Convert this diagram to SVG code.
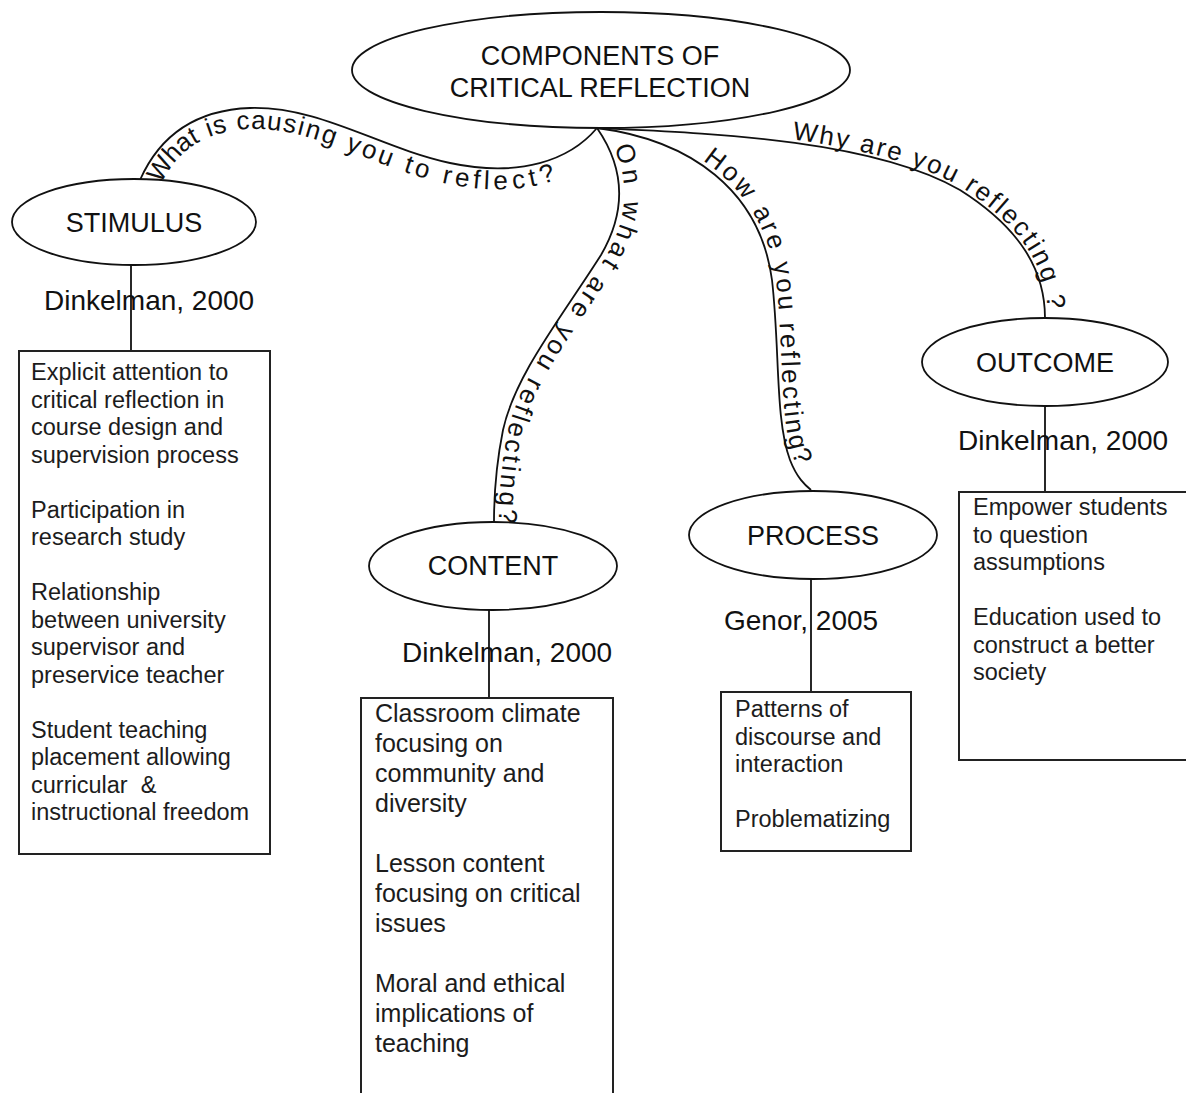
<svg xmlns="http://www.w3.org/2000/svg" xmlns:xlink="http://www.w3.org/1999/xlink" width="1186" height="1093" viewBox="0 0 1186 1093">
  <style>
    .bg { fill: #ffffff; }
    .node { fill: #ffffff; stroke: #111; stroke-width: 1.8; }
    .box { fill: #ffffff; stroke: #222; stroke-width: 2; }
    .wire { fill: none; stroke: #111; stroke-width: 1.8; }
    text { font-family: "Liberation Sans", Arial, Helvetica, sans-serif; fill: #111; }
    .title { font-size: 27px; text-anchor: middle; }
    .cite { font-size: 28px; }
    .item { font-size: 23.5px; fill: #1c1c1c; }
    .item-lg { font-size: 25px; fill: #1c1c1c; }
    .curve { font-size: 26px; }
  </style>
  <rect class="bg" x="0" y="0" width="1186" height="1093"/>

  <!-- connectors: curved question links from the hub and straight stems down to the boxes -->
  <g id="connectors">
    <path id="link-stimulus" class="wire" d="M140,180 C160,135 195,110 250,108 C320,106 380,148 450,163 C520,178 570,160 597,128"/>
    <path id="link-content" class="wire" d="M597,128 C626,170 626,212 601,255 C561,318 515,375 503,430 C495,470 494,500 494,522"/>
    <path id="link-process" class="wire" d="M597,128 C690,140 760,190 772,280 C780,350 775,420 790,460 C797,478 805,485 811,490"/>
    <path id="link-outcome" class="wire" d="M597,128 C700,133 870,138 960,190 C1020,228 1045,270 1045,318"/>

    <line class="wire" x1="131" y1="265" x2="131" y2="351"/>
    <line class="wire" x1="489" y1="610" x2="489" y2="698"/>
    <line class="wire" x1="811" y1="579" x2="811" y2="692"/>
    <line class="wire" x1="1045" y1="406" x2="1045" y2="492"/>

    <text class="curve" dominant-baseline="hanging" dy="2" letter-spacing="2.9"><textPath xlink:href="#link-stimulus" href="#link-stimulus" startOffset="8">What is causing you to reflect?</textPath></text>
    <text class="curve" dy="-5" letter-spacing="3.4"><textPath xlink:href="#link-content" href="#link-content" startOffset="24">On what are you reflecting?</textPath></text>
    <text class="curve" dy="-4" letter-spacing="2.6"><textPath xlink:href="#link-process" href="#link-process" startOffset="110">How are you reflecting?</textPath></text>
    <text class="curve" dy="-3" letter-spacing="2.1"><textPath xlink:href="#link-outcome" href="#link-outcome" startOffset="195">Why are you reflecting ?</textPath></text>

    <text class="cite" x="44" y="310">Dinkelman, 2000</text>
    <text class="cite" x="402" y="662">Dinkelman, 2000</text>
    <text class="cite" x="724" y="630">Genor, 2005</text>
    <text class="cite" x="958" y="450">Dinkelman, 2000</text>
  </g>

  <!-- central concept -->
  <g id="node-components">
    <ellipse class="node" cx="601" cy="70" rx="249" ry="58"/>
    <text class="title" x="600" y="65">COMPONENTS OF</text>
    <text class="title" x="600" y="97">CRITICAL REFLECTION</text>
  </g>

  <g id="node-stimulus">
    <ellipse class="node" cx="134" cy="222" rx="122" ry="43"/>
    <text class="title" x="134" y="232">STIMULUS</text>
  </g>

  <g id="node-content">
    <ellipse class="node" cx="493" cy="566" rx="124" ry="44"/>
    <text class="title" x="493" y="575">CONTENT</text>
  </g>

  <g id="node-process">
    <ellipse class="node" cx="813" cy="535" rx="124" ry="44"/>
    <text class="title" x="813" y="545">PROCESS</text>
  </g>

  <g id="node-outcome">
    <ellipse class="node" cx="1045" cy="362" rx="123" ry="44"/>
    <text class="title" x="1045" y="372">OUTCOME</text>
  </g>

  <!-- detail boxes -->
  <g id="box-stimulus">
    <rect class="box" x="19" y="351" width="251" height="503"/>
    <text class="item" x="31" y="380">Explicit attention to</text>
    <text class="item" x="31" y="407.5">critical reflection in</text>
    <text class="item" x="31" y="435">course design and</text>
    <text class="item" x="31" y="462.5">supervision process</text>
    <text class="item" x="31" y="517.5">Participation in</text>
    <text class="item" x="31" y="545">research study</text>
    <text class="item" x="31" y="600">Relationship</text>
    <text class="item" x="31" y="627.5">between university</text>
    <text class="item" x="31" y="655">supervisor and</text>
    <text class="item" x="31" y="682.5">preservice teacher</text>
    <text class="item" x="31" y="737.5">Student teaching</text>
    <text class="item" x="31" y="765">placement allowing</text>
    <text class="item" x="31" y="792.5" xml:space="preserve">curricular  &amp;</text>
    <text class="item" x="31" y="820">instructional freedom</text>
  </g>

  <g id="box-content">
    <rect class="box" x="361" y="698" width="252" height="420"/>
    <text class="item-lg" x="375" y="722">Classroom climate</text>
    <text class="item-lg" x="375" y="752">focusing on</text>
    <text class="item-lg" x="375" y="782">community and</text>
    <text class="item-lg" x="375" y="812">diversity</text>
    <text class="item-lg" x="375" y="872">Lesson content</text>
    <text class="item-lg" x="375" y="902">focusing on critical</text>
    <text class="item-lg" x="375" y="932">issues</text>
    <text class="item-lg" x="375" y="992">Moral and ethical</text>
    <text class="item-lg" x="375" y="1022">implications of</text>
    <text class="item-lg" x="375" y="1052">teaching</text>
  </g>

  <g id="box-process">
    <rect class="box" x="721" y="692" width="190" height="159"/>
    <text class="item" x="735" y="717">Patterns of</text>
    <text class="item" x="735" y="744.5">discourse and</text>
    <text class="item" x="735" y="772">interaction</text>
    <text class="item" x="735" y="827">Problematizing</text>
  </g>

  <g id="box-outcome">
    <rect class="box" x="959" y="492" width="260" height="268"/>
    <text class="item" x="973" y="515">Empower students</text>
    <text class="item" x="973" y="542.5">to question</text>
    <text class="item" x="973" y="570">assumptions</text>
    <text class="item" x="973" y="625">Education used to</text>
    <text class="item" x="973" y="652.5">construct a better</text>
    <text class="item" x="973" y="680">society</text>
  </g>
</svg>
